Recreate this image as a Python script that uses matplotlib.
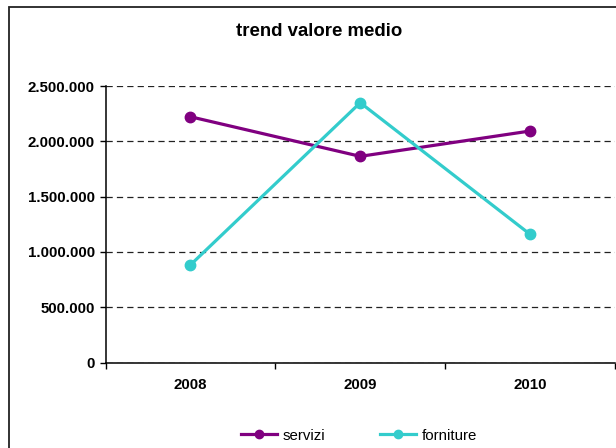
import matplotlib
matplotlib.use("Agg")
import matplotlib.pyplot as plt
from matplotlib.ticker import FuncFormatter, FixedLocator
from matplotlib.patches import Rectangle

plt.rcParams['font.family'] = ['Liberation Sans', 'DejaVu Sans']

years = ['2008', '2009', '2010']
servizi = [2222000, 1864000, 2093000]
forniture = [882000, 2349000, 1159000]
title = 'trend valore medio'
series_names = ['servizi', 'forniture']
colors = ['#800080', '#33CCCC']

W, H = 616, 448
fig = plt.figure(figsize=(W / 100, H / 100), dpi=100)

# outer chart frame (cut off at right/bottom like the reference)
fig.patches.append(Rectangle((9 / W, -0.1), 1.2, 1 - 7.5 / H + 0.1, transform=fig.transFigure,
                             fill=False, edgecolor='#222222', linewidth=1.3))

ax = fig.add_axes([105.5 / W, (H - 362.5) / H, (615 - 105.5) / W, (362.5 - 86) / H])

x = list(range(len(years)))
ax.plot(x, servizi, color=colors[0], lw=2.3, marker='o', ms=7.5, label=series_names[0], zorder=3)
ax.plot(x, forniture, color=colors[1], lw=2.3, marker='o', ms=7.5, label=series_names[1], zorder=3)

ax.set_xlim(-0.5, len(years) - 0.5)
ax.set_ylim(0, 2500000)
ax.set_yticks([0, 500000, 1000000, 1500000, 2000000, 2500000])
ax.yaxis.set_major_formatter(FuncFormatter(lambda v, p: f"{int(v):,}".replace(',', '.')))
ax.set_xticks(x)
ax.set_xticklabels(years)
ax.xaxis.set_minor_locator(FixedLocator([i - 0.5 for i in range(len(years) + 1)]))

ax.tick_params(axis='x', which='major', length=0, pad=11.5, labelsize=10.8)
ax.tick_params(axis='x', which='minor', length=4, width=1, direction='out', color='black')
ax.tick_params(axis='y', length=4.3, width=1, direction='out', pad=3.5, labelsize=10.8)
for lbl in ax.get_xticklabels() + ax.get_yticklabels():
    lbl.set_fontweight('bold')

ax.grid(axis='y', color='#222222', linestyle=(0, (5, 3.3)), linewidth=0.9)
ax.set_axisbelow(True)
for s in ['top', 'right']:
    ax.spines[s].set_visible(False)
ax.spines['left'].set_linewidth(1.1)
ax.spines['bottom'].set_linewidth(1.1)

fig.text(319 / W, (H - 36) / H, title, ha='center', va='baseline', fontsize=13.4, fontweight='bold')

fig.legend(loc='center', bbox_to_anchor=(359 / W, (H - 435.7) / H), ncol=2, frameon=False,
           fontsize=10.8, handlelength=2.4, handletextpad=0.4, columnspacing=3.6,
           borderpad=0, borderaxespad=0, markerscale=0.8)

fig.savefig('out.png', dpi=100)
